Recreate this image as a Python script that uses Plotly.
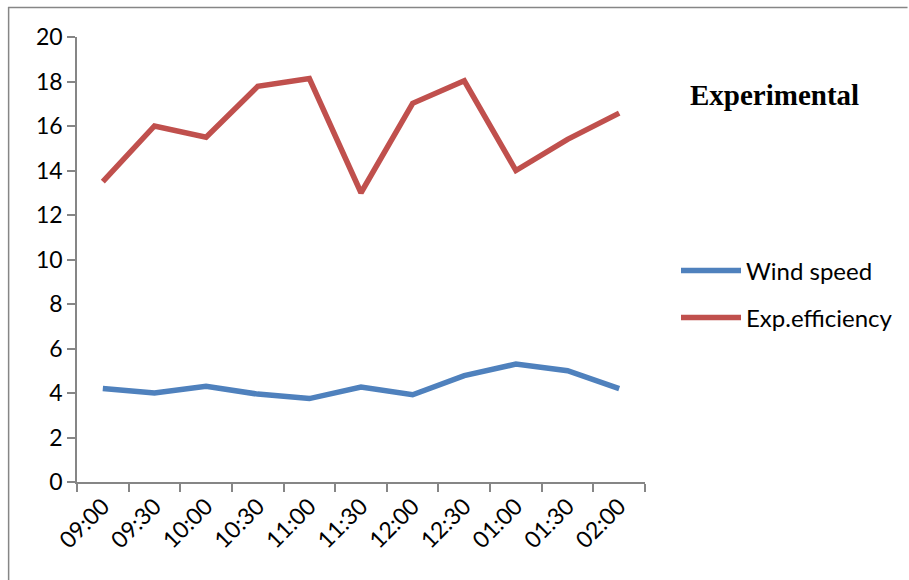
import plotly.graph_objects as go

times = ["09:00", "09:30", "10:00", "10:30", "11:00", "11:30", "12:00", "12:30", "01:00", "01:30", "02:00"]
wind_speed = [4.2, 4.0, 4.3, 3.95, 3.75, 4.27, 3.92, 4.78, 5.3, 5.0, 4.2]
exp_efficiency = [13.5, 16.0, 15.5, 17.78, 18.13, 13.0, 17.02, 18.03, 14.0, 15.4, 16.58]

W, H = 909, 580
L, R, T, B = 77, 263, 37, 98
pw, ph = W - L - R, H - T - B

def px(x):
    return (x - L) / pw

def py(y):
    return 1 - (y - T) / ph

blue = "#4F81BD"
red = "#C0504D"
axis_col = "#868686"
font_family = "Lato, 'Open Sans', sans-serif"

fig = go.Figure()
fig.add_trace(go.Scatter(x=times, y=wind_speed, mode="lines", name="Wind speed",
                         line=dict(color=blue, width=5.5), legend="legend"))
fig.add_trace(go.Scatter(x=times, y=exp_efficiency, mode="lines", name="Exp.efficiency",
                         line=dict(color=red, width=5.5), legend="legend2"))

leg_common = dict(font=dict(family=font_family, size=24, color="#000000"),
                  bgcolor="rgba(0,0,0,0)", itemwidth=60, xanchor="left", yanchor="middle")

fig.update_layout(
    width=W, height=H,
    margin=dict(l=L, r=R, t=T, b=B),
    paper_bgcolor="white", plot_bgcolor="white",
    font=dict(family=font_family, size=23, color="#000000"),
    showlegend=True,
    legend=dict(x=px(676), y=py(271), **leg_common),
    legend2=dict(x=px(676), y=py(318), **leg_common),
    xaxis=dict(type="category", range=[-0.5, 10.5], showline=True, linecolor=axis_col, linewidth=1.5,
               ticks="outside", tickson="boundaries", ticklen=8, tickcolor=axis_col, tickwidth=1.5,
               tickangle=-45, showgrid=False, zeroline=False,
               tickfont=dict(family=font_family, size=23, color="#000000")),
    yaxis=dict(range=[0, 20], dtick=2, showline=True, linecolor=axis_col, linewidth=1.5,
               ticks="outside", ticklen=8, tickcolor=axis_col, tickwidth=1.5,
               showgrid=False, zeroline=False,
               tickfont=dict(family=font_family, size=23, color="#000000")),
    annotations=[dict(text="<b>Experimental</b>", xref="paper", yref="paper",
                      x=px(776), y=py(95), xanchor="center", yanchor="middle", showarrow=False,
                      font=dict(family="'Liberation Serif', 'Times New Roman', serif", size=29, color="#000000"))],
    shapes=[
        dict(type="line", xref="paper", yref="paper", x0=px(8), x1=px(909), y0=py(7.5), y1=py(7.5),
             line=dict(color=axis_col, width=1.5)),
        dict(type="line", xref="paper", yref="paper", x0=px(8.5), x1=px(8.5), y0=py(7), y1=py(580),
             line=dict(color=axis_col, width=1.5)),
    ],
)

fig.write_html("out.html")
